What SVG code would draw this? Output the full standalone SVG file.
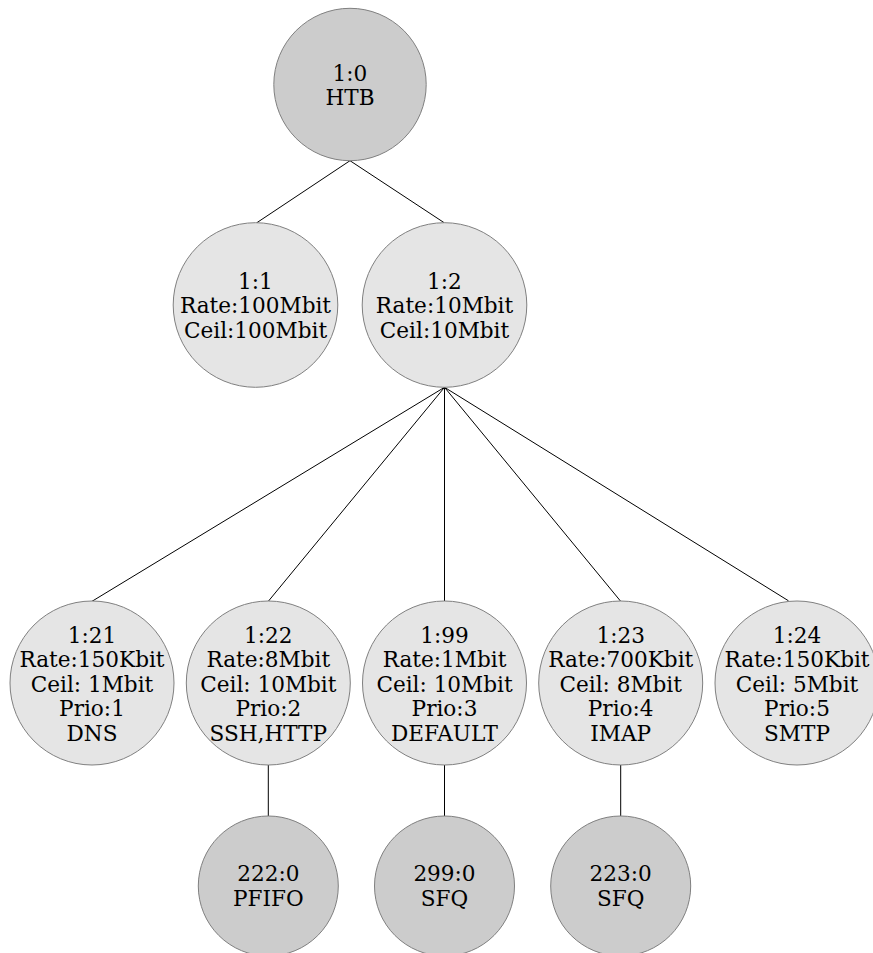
<svg xmlns="http://www.w3.org/2000/svg" width="873" height="953" viewBox="0 0 873 953">
  <style>
    .qdisc { fill: #cccccc; stroke: #808080; stroke-width: 1; }
    .class { fill: #e5e5e5; stroke: #808080; stroke-width: 1; }
    .edge { stroke: #000000; stroke-width: 1; fill: none; }
    text { font-family: "DejaVu Serif", serif; font-size: 21.6px; fill: #000000; text-anchor: middle; }
  </style>
  <rect width="873" height="953" fill="#ffffff"/>

  <!-- connectors -->
  <g id="edges">
    <line class="edge" x1="350" y1="160.7" x2="256.7" y2="222.8"/>
    <line class="edge" x1="350" y1="160.7" x2="444.3" y2="222.8"/>
    <line class="edge" x1="444.5" y1="387.3" x2="92" y2="601.3"/>
    <line class="edge" x1="444.5" y1="387.3" x2="268.3" y2="601.3"/>
    <line class="edge" x1="444.5" y1="387.3" x2="444.5" y2="601"/>
    <line class="edge" x1="444.5" y1="387.3" x2="620.7" y2="601.3"/>
    <line class="edge" x1="444.5" y1="387.3" x2="788.5" y2="600.8"/>
    <line class="edge" x1="268.3" y1="765" x2="268.3" y2="816"/>
    <line class="edge" x1="444.5" y1="765" x2="444.5" y2="816"/>
    <line class="edge" x1="620.7" y1="765" x2="620.7" y2="816"/>
  </g>

  <!-- root qdisc -->
  <g id="n1_0">
    <circle class="qdisc" cx="350" cy="84.5" r="76.2"/>
    <text x="350" y="80.5">1:0</text>
    <text x="350" y="105">HTB</text>
  </g>

  <!-- top-level classes -->
  <g id="n1_1">
    <circle class="class" cx="255.5" cy="305" r="82.3"/>
    <text x="255.5" y="288.5">1:1</text>
    <text x="255.5" y="313">Rate:100Mbit</text>
    <text x="255.5" y="337.5">Ceil:100Mbit</text>
  </g>
  <g id="n1_2">
    <circle class="class" cx="444.5" cy="305" r="82.3"/>
    <text x="444.5" y="288.5">1:2</text>
    <text x="444.5" y="313">Rate:10Mbit</text>
    <text x="444.5" y="337.5">Ceil:10Mbit</text>
  </g>

  <!-- leaf classes -->
  <g id="n1_21">
    <circle class="class" cx="92" cy="683" r="82"/>
    <text x="92" y="642.5">1:21</text>
    <text x="92" y="667">Rate:150Kbit</text>
    <text x="92" y="691.5">Ceil: 1Mbit</text>
    <text x="92" y="716">Prio:1</text>
    <text x="92" y="740.5">DNS</text>
  </g>
  <g id="n1_22">
    <circle class="class" cx="268.3" cy="683" r="82"/>
    <text x="268.3" y="642.5">1:22</text>
    <text x="268.3" y="667">Rate:8Mbit</text>
    <text x="268.3" y="691.5">Ceil: 10Mbit</text>
    <text x="268.3" y="716">Prio:2</text>
    <text x="268.3" y="740.5">SSH,HTTP</text>
  </g>
  <g id="n1_99">
    <circle class="class" cx="444.5" cy="683" r="82"/>
    <text x="444.5" y="642.5">1:99</text>
    <text x="444.5" y="667">Rate:1Mbit</text>
    <text x="444.5" y="691.5">Ceil: 10Mbit</text>
    <text x="444.5" y="716">Prio:3</text>
    <text x="444.5" y="740.5">DEFAULT</text>
  </g>
  <g id="n1_23">
    <circle class="class" cx="620.7" cy="683" r="82"/>
    <text x="620.7" y="642.5">1:23</text>
    <text x="620.7" y="667">Rate:700Kbit</text>
    <text x="620.7" y="691.5">Ceil: 8Mbit</text>
    <text x="620.7" y="716">Prio:4</text>
    <text x="620.7" y="740.5">IMAP</text>
  </g>
  <g id="n1_24">
    <circle class="class" cx="797" cy="683" r="82"/>
    <text x="797" y="642.5">1:24</text>
    <text x="797" y="667">Rate:150Kbit</text>
    <text x="797" y="691.5">Ceil: 5Mbit</text>
    <text x="797" y="716">Prio:5</text>
    <text x="797" y="740.5">SMTP</text>
  </g>

  <!-- leaf qdiscs -->
  <g id="n222_0">
    <circle class="qdisc" cx="268.3" cy="886" r="70"/>
    <text x="268.3" y="881">222:0</text>
    <text x="268.3" y="905.5">PFIFO</text>
  </g>
  <g id="n299_0">
    <circle class="qdisc" cx="444.5" cy="886" r="70"/>
    <text x="444.5" y="881">299:0</text>
    <text x="444.5" y="905.5">SFQ</text>
  </g>
  <g id="n223_0">
    <circle class="qdisc" cx="620.7" cy="886" r="70"/>
    <text x="620.7" y="881">223:0</text>
    <text x="620.7" y="905.5">SFQ</text>
  </g>
</svg>
